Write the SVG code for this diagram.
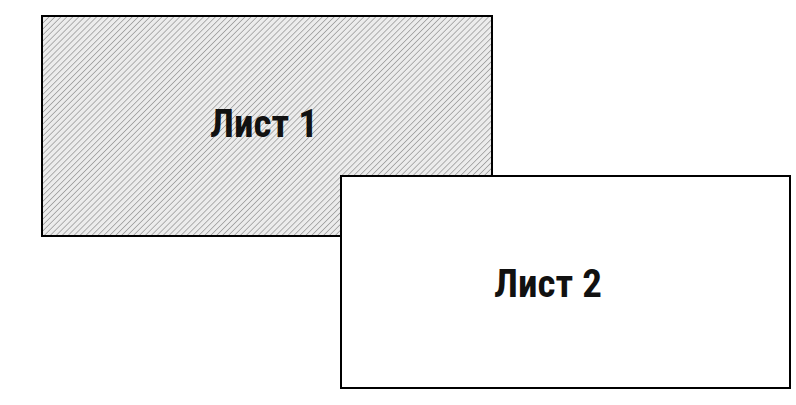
<svg xmlns="http://www.w3.org/2000/svg" width="796" height="405" viewBox="0 0 796 405">
<defs>
<pattern id="hatch" patternUnits="userSpaceOnUse" width="4.2" height="4.2" patternTransform="rotate(45)">
<rect width="4.2" height="4.2" fill="#ececec"/>
<line x1="0" y1="0" x2="0" y2="4.2" stroke="#999" stroke-width="1.5"/>
</pattern>
</defs>
<style>
.sheet{stroke:#000;stroke-width:2}
.lbl{font-family:"Liberation Sans Narrow","Roboto Condensed","Liberation Sans",sans-serif;font-weight:bold;font-size:39px;fill:#111;text-anchor:middle}
</style>
<rect width="796" height="405" fill="#fff"/>
<g id="sheet1">
<rect class="sheet" x="42" y="16" width="450" height="220" fill="url(#hatch)"/>
<text class="lbl" x="264" y="137">Лист 1</text>
</g>
<g id="sheet2">
<rect class="sheet" x="341" y="176" width="449" height="212" fill="#fff"/>
<text class="lbl" x="548" y="297">Лист 2</text>
</g>
<g id="connectors"/>
</svg>
